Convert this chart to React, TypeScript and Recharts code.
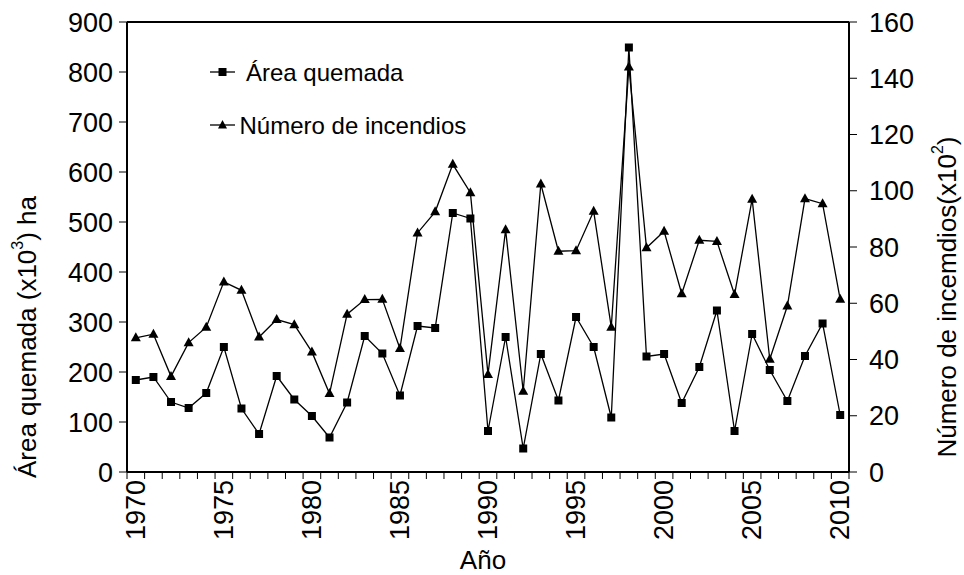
import React from 'react';
import { LineChart, Line, XAxis, YAxis, ReferenceLine } from 'recharts';

const years = [
  1970, 1971, 1972, 1973, 1974, 1975, 1976, 1977, 1978, 1979,
  1980, 1981, 1982, 1983, 1984, 1985, 1986, 1987, 1988, 1989,
  1990, 1991, 1992, 1993, 1994, 1995, 1996, 1997, 1998, 1999,
  2000, 2001, 2002, 2003, 2004, 2005, 2006, 2007, 2008, 2009,
  2010,
];
const areaQuemada = [
  184, 190, 140, 128, 158, 250, 127, 76, 192, 145,
  112, 69, 139, 272, 237, 153, 292, 288, 518, 507,
  82, 270, 47, 236, 143, 310, 250, 109, 849, 231,
  236, 138, 210, 323, 82, 276, 204, 142, 232, 297,
  114,
];
const numeroIncendios = [
  47.7, 49, 34, 46, 51.5, 67.6, 64.6, 48, 54.2, 52.4,
  42.7, 27.9, 56.1, 61.3, 61.4, 43.9, 85, 92.5, 109.4, 99.3,
  34.7, 86.1, 28.7, 102.4, 78.5, 78.7, 92.7, 51.5, 144, 79.7,
  85.6, 63.4, 82.4, 82, 63.1, 97, 40.1, 59, 97.2, 95.4,
  61.4,
];
const yearLabels = [1970, 1975, 1980, 1985, 1990, 1995, 2000, 2005, 2010];
const leftTicks = [0, 100, 200, 300, 400, 500, 600, 700, 800, 900];
const rightTicks = [0, 20, 40, 60, 80, 100, 120, 140, 160];
const yearBoundaries = [...years.map((y) => y - 0.5), years[years.length - 1] + 0.5];

const data = years.map((year, i) => ({
  year,
  area: areaQuemada[i],
  num: numeroIncendios[i],
}));

const FONT = '"Liberation Sans", Arial, Helvetica, sans-serif';
const TICK_FS = 27;
const TITLE_FS = 26;
const LEGEND_FS = 24;

const SquareDot = (props: any) => {
  const { cx, cy, index } = props;
  if (cx == null || cy == null) return <g key={index} />;
  return <rect key={index} x={cx - 4} y={cy - 4} width={8} height={8} fill="#000" />;
};
const TriangleDot = (props: any) => {
  const { cx, cy, index } = props;
  if (cx == null || cy == null) return <g key={index} />;
  return (
    <polygon
      key={index}
      points={`${cx},${cy - 5.5} ${cx - 5},${cy + 3.5} ${cx + 5},${cy + 3.5}`}
      fill="#000"
    />
  );
};

const EmptyTick = () => <g />;

const YearTick = (props: any) => {
  const { x, y, payload } = props;
  return (
    <text
      x={x}
      y={y}
      transform={`rotate(-90 ${x} ${y})`}
      textAnchor="end"
      dominantBaseline="central"
      fontSize={TICK_FS}
      fontFamily={FONT}
      fill="#000"
    >
      {payload.value}
    </text>
  );
};

const LeftTitle = (props: any) => {
  const vb = props.viewBox || { x: 0, y: 22, width: 127, height: 450 };
  const x = vb.x + 27;
  const y = vb.y + vb.height / 2 + 90;
  return (
    <text
      x={x}
      y={y}
      transform={`rotate(-90 ${x} ${y})`}
      textAnchor="middle"
      dominantBaseline="central"
      fontSize={TITLE_FS}
      fontFamily={FONT}
      fill="#000"
    >
      Área quemada (x10
      <tspan fontSize={16} dy={-10}>3</tspan>
      <tspan dy={10}>) ha</tspan>
    </text>
  );
};

const RightTitle = (props: any) => {
  const vb = props.viewBox || { x: 849, y: 22, width: 115, height: 450 };
  const x = vb.x + 98;
  const y = vb.y + vb.height / 2 + 50;
  return (
    <text
      x={x}
      y={y}
      transform={`rotate(-90 ${x} ${y})`}
      textAnchor="middle"
      dominantBaseline="central"
      fontSize={TITLE_FS}
      fontFamily={FONT}
      fill="#000"
    >
      Número de incemdios(x10
      <tspan fontSize={16} dy={-10}>2</tspan>
      <tspan dy={10}>)</tspan>
    </text>
  );
};

const XTitle = (props: any) => {
  const vb = props.viewBox || { x: 127, y: 480, width: 722, height: 95 };
  return (
    <text
      x={vb.x + vb.width / 2 - 5}
      y={vb.y + vb.height - 6}
      textAnchor="middle"
      fontSize={TITLE_FS}
      fontFamily={FONT}
      fill="#000"
    >
      Año
    </text>
  );
};

const LegendOverlay = () => (
  <svg
    width={400}
    height={120}
    style={{ position: 'absolute', left: 200, top: 40, pointerEvents: 'none' }}
  >
    <line x1={10} y1={32} x2={35} y2={32} stroke="#000" strokeWidth={1.3} />
    <rect x={18.5} y={28} width={8} height={8} fill="#000" />
    <text x={46} y={32} dominantBaseline="central" fontSize={LEGEND_FS} fontFamily={FONT} fill="#000">
      Área quemada
    </text>
    <line x1={10} y1={85} x2={35} y2={85} stroke="#000" strokeWidth={1.3} />
    <polygon points="22.5,80 18,88.5 27,88.5" fill="#000" />
    <text x={39.5} y={85} dominantBaseline="central" fontSize={LEGEND_FS} fontFamily={FONT} fill="#000">
      Número de incendios
    </text>
  </svg>
);

export default function App() {
  return (
    <div style={{ position: 'absolute', left: 0, top: 0, width: 964, height: 575, background: '#fff' }}>
      <LineChart
        width={964}
        height={575}
        data={data}
        margin={{ top: 22, right: 0, bottom: 0, left: 0 }}
      >
        <XAxis
          xAxisId="a"
          dataKey="year"
          type="number"
          domain={[1969.5, 2010.5]}
          ticks={yearBoundaries}
          interval={0}
          allowDataOverflow
          height={8}
          tick={<EmptyTick />}
          tickSize={7}
          tickLine={{ stroke: '#000', strokeWidth: 1 }}
          axisLine={{ stroke: '#000', strokeWidth: 2 }}
        />
        <XAxis
          xAxisId="b"
          dataKey="year"
          type="number"
          domain={[1969.5, 2010.5]}
          ticks={yearLabels}
          interval={0}
          allowDataOverflow
          height={95}
          tick={<YearTick />}
          tickSize={0}
          tickMargin={0}
          tickLine={false}
          axisLine={false}
          label={{ content: XTitle }}
        />
        <YAxis
          yAxisId="left"
          orientation="left"
          domain={[0, 900]}
          ticks={leftTicks}
          interval={0}
          width={127}
          tickSize={8}
          tickMargin={6}
          tick={{ fontSize: TICK_FS, fontFamily: FONT, fill: '#000' }}
          tickLine={{ stroke: '#000', strokeWidth: 1 }}
          axisLine={{ stroke: '#000', strokeWidth: 2 }}
          label={{ content: LeftTitle }}
        />
        <YAxis
          yAxisId="right"
          orientation="right"
          domain={[0, 160]}
          ticks={rightTicks}
          interval={0}
          width={115}
          tickSize={8}
          tickMargin={12}
          tick={{ fontSize: TICK_FS, fontFamily: FONT, fill: '#000' }}
          tickLine={{ stroke: '#000', strokeWidth: 1 }}
          axisLine={{ stroke: '#000', strokeWidth: 2 }}
          label={{ content: RightTitle }}
        />
        <ReferenceLine xAxisId="a" yAxisId="left" y={900} stroke="#000" strokeWidth={2} />
        <Line
          xAxisId="a"
          yAxisId="left"
          dataKey="area"
          stroke="#000"
          strokeWidth={1.3}
          dot={<SquareDot />}
          activeDot={false}
          isAnimationActive={false}
        />
        <Line
          xAxisId="b"
          yAxisId="right"
          dataKey="num"
          stroke="#000"
          strokeWidth={1.3}
          dot={<TriangleDot />}
          activeDot={false}
          isAnimationActive={false}
        />
      </LineChart>
      <LegendOverlay />
    </div>
  );
}
